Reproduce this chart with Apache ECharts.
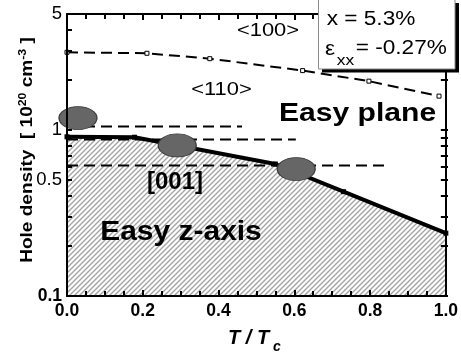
<!DOCTYPE html>
<html><head><meta charset="utf-8">
<script src="https://cdn.jsdelivr.net/npm/echarts@6/dist/echarts.min.js"></script>
<style>html,body{margin:0;padding:0;background:#fff}#c{width:461px;height:356px}</style>
</head><body><div id="c"></div>
<script>
// ---- data ----
const xTickValues = [0, 0.2, 0.4, 0.6, 0.8, 1.0];
const yTickLabels = [0.1, 0.5, 1, 5];
const yTicks = [0.1, 0.2, 0.3, 0.4, 0.5, 0.6, 0.7, 0.8, 0.9, 1, 2, 3, 4, 5];
const boundary100_110 = [[0, 2.94], [0.211, 2.90], [0.377, 2.69], [0.622, 2.28], [0.797, 1.97], [0.982, 1.60]];
const easyAxisBoundary = [[0, 0.91], [0.178, 0.905], [0.55, 0.624], [0.73, 0.425], [1.0, 0.239]];
const dashLine1 = [[0, 1.05], [0.462, 1.05]];
const dashLine2 = [[0, 0.877], [0.604, 0.877]];
const dashLine3 = [[0, 0.611], [0.843, 0.611]];
const ellipseMarks = [[0.029, 1.18], [0.291, 0.807], [0.605, 0.582]];

// ---- hatch pattern ----
const S = 5;
const pc = document.createElement('canvas');
pc.width = S; pc.height = S;
const ctx = pc.getContext('2d');
ctx.fillStyle = '#fff'; ctx.fillRect(0, 0, S, S);
ctx.strokeStyle = '#a4a4a4'; ctx.lineWidth = 1.4;
ctx.beginPath();
ctx.moveTo(-1, S + 1); ctx.lineTo(S + 1, -1);
ctx.moveTo(-1, 1); ctx.lineTo(1, -1);
ctx.moveTo(S - 1, S + 1); ctx.lineTo(S + 1, S - 1);
ctx.stroke();

const FONT = 'Liberation Sans, Arial, Helvetica, sans-serif';
const TICK = '#000';
function axisLine(show) { return {show: show !== false, onZero: false, lineStyle: {color: '#000', width: 2}}; }
function tick(len, inside) { return {show: true, inside: inside !== false, length: len, lineStyle: {color: TICK, width: 2}}; }
function minor() { return {show: true, splitNumber: 4, length: 5, lineStyle: {color: TICK, width: 2}}; }

function txt(text, x, y, size, opts) {
  opts = opts || {};
  return {
    type: 'text', x: x, y: y, z: 100, scaleX: opts.sx || 1, rotation: opts.rot || 0,
    style: {
      text: text, fontSize: size, fontFamily: FONT, fontWeight: opts.bold ? 'bold' : 'normal',
      fontStyle: opts.italic ? 'italic' : 'normal',
      fill: '#000', align: opts.align || 'center', textAlign: opts.align || 'center',
      verticalAlign: 'middle', textVerticalAlign: 'middle', rich: opts.rich
    }
  };
}

const chart = echarts.init(document.getElementById('c'));
chart.setOption({
  animation: false,
  backgroundColor: '#fff',
  grid: {left: 67, right: 13, top: 14, bottom: 60},
  xAxis: [{
    type: 'value', min: 0, max: 1, interval: 0.2, position: 'bottom', z: 10,
    axisLine: axisLine(),
    axisTick: tick(6),
    minorTick: minor(),
    splitLine: {show: false}, minorSplitLine: {show: false},
    axisLabel: {margin: 6, color: '#000', fontFamily: FONT, fontWeight: 'bold', fontSize: 17.5,
      formatter: v => v.toFixed(1)}
  }, {
    type: 'value', min: 0, max: 1, interval: 0.2, position: 'top', z: 10,
    axisLine: axisLine(),
    axisTick: tick(6),
    minorTick: minor(),
    splitLine: {show: false}, axisLabel: {show: false}
  }, {
    // tick-only copy of the bottom axis (moved onto the bottom edge with offset)
    type: 'value', min: 0, max: 1, interval: 0.2, position: 'bottom', offset: -282, z: 10,
    axisLine: axisLine(false),
    axisTick: tick(6, false),
    minorTick: minor(),
    splitLine: {show: false}, axisLabel: {show: false}
  }],
  yAxis: [{
    type: 'log', logBase: 10, min: 0.1, max: 5, position: 'left', z: 10,
    axisLine: axisLine(),
    axisTick: Object.assign(tick(5), {customValues: yTicks}),
    splitLine: {show: false},
    axisLabel: {margin: 5, color: '#000', fontFamily: FONT, fontSize: 18, customValues: yTickLabels,
      formatter: v => Math.abs(v - 0.1) < 1e-9 ? '{b|0.1}' : '{r|' + v + '}',
      rich: {b: {fontWeight: 'bold', fontSize: 17.5, fontFamily: FONT, color: '#000'},
             r: {fontWeight: 'normal', fontSize: 18.5, fontFamily: FONT, color: '#000'}}}
  }, {
    type: 'log', logBase: 10, min: 0.1, max: 5, position: 'right', z: 10,
    axisLine: axisLine(),
    axisTick: Object.assign(tick(5), {customValues: yTicks}),
    splitLine: {show: false}, axisLabel: {show: false}
  }, {
    // tick-only copy of the left axis (moved onto the left edge with offset)
    type: 'log', logBase: 10, min: 0.1, max: 5, position: 'left', offset: -381, z: 10,
    axisLine: axisLine(false),
    axisTick: Object.assign(tick(5, false), {customValues: yTicks}),
    splitLine: {show: false}, axisLabel: {show: false}
  }],
  series: [{
    name: 'hatch', type: 'line', data: easyAxisBoundary, showSymbol: false, z: 1,
    lineStyle: {color: '#888', width: 1},
    areaStyle: {color: {image: pc, repeat: 'repeat'}, opacity: 1, origin: 0.1}
  }, {
    type: 'line', data: dashLine1, symbol: 'none', z: 2,
    lineStyle: {color: '#000', width: 2, type: [11, 6]}
  }, {
    type: 'line', data: dashLine2, symbol: 'none', z: 2,
    lineStyle: {color: '#000', width: 2, type: [11, 6]}
  }, {
    type: 'line', data: dashLine3, symbol: 'none', z: 2,
    lineStyle: {color: '#000', width: 2, type: [11, 6]}
  }, {
    type: 'line', data: boundary100_110, symbol: 'rect', symbolSize: 4, showAllSymbol: true, z: 3,
    itemStyle: {color: '#fff', borderColor: '#000', borderWidth: 1},
    lineStyle: {color: '#000', width: 2, type: [11, 6]}
  }, {
    type: 'line', data: easyAxisBoundary, symbol: 'rect', symbolSize: 5, showAllSymbol: true, z: 4,
    itemStyle: {color: '#000'},
    lineStyle: {color: '#000', width: 4}
  }, {
    type: 'scatter', data: ellipseMarks, z: 5,
    symbol: 'path://M0 50 A50 50 0 1 1 100 50 A50 50 0 1 1 0 50 Z',
    symbolSize: [38, 23],
    itemStyle: {color: '#666666', borderColor: '#3a3a3a', borderWidth: 1, opacity: 1}
  }],
  graphic: [
    txt('<100>', 268, 31, 18.6, {sx: 1.18}),
    txt('<110>', 221.5, 90, 18.6, {sx: 1.18}),
    txt('Easy plane', 357.5, 114, 25.5, {sx: 1.18, bold: true}),
    txt('[001]', 175, 182.7, 24, {bold: true}),
    txt('Easy z-axis', 181, 232.7, 28, {sx: 1.07, bold: true}),
    {type: 'rect', z: 99, shape: {x: 322, y: 3, width: 137, height: 69.5}, style: {fill: '#000'}},
    {type: 'rect', z: 99, shape: {x: 318.5, y: -1, width: 136.5, height: 70}, style: {fill: '#fff', stroke: '#8a8a8a', lineWidth: 1}},
    txt('x = 5.3%', 326.7, 19.7, 19.5, {sx: 1.16, align: 'left'}),
    txt('\u03b5', 325, 50, 19.5, {sx: 1.16, align: 'left'}),
    txt('xx', 336.7, 60.8, 15, {sx: 1.16, align: 'left'}),
    txt('= -0.27%', 355.7, 48.2, 19.5, {sx: 1.16, align: 'left'}),
    txt('T / T', 228, 338, 20, {bold: true, italic: true, align: 'left'}),
    txt('c', 273, 347.5, 14, {bold: true, italic: true, align: 'left'}),
    {
      type: 'text', x: 27.5, y: 150, z: 100, rotation: Math.PI / 2, scaleX: 1.12,
      style: {
        text: '{m|Hole density  [ 10}{s|20}{m| cm}{s|-3}{m| ]}',
        align: 'center', textAlign: 'center', verticalAlign: 'middle', textVerticalAlign: 'middle', fill: '#000',
        rich: {
          m: {fontSize: 17, fontWeight: 'bold', fontFamily: FONT, lineHeight: 20, fill: '#000', color: '#000'},
          s: {fontSize: 11, fontWeight: 'bold', fontFamily: FONT, lineHeight: 14, verticalAlign: 'top', fill: '#000', color: '#000'}
        }
      }
    }
  ]
});
</script>
</body></html>
